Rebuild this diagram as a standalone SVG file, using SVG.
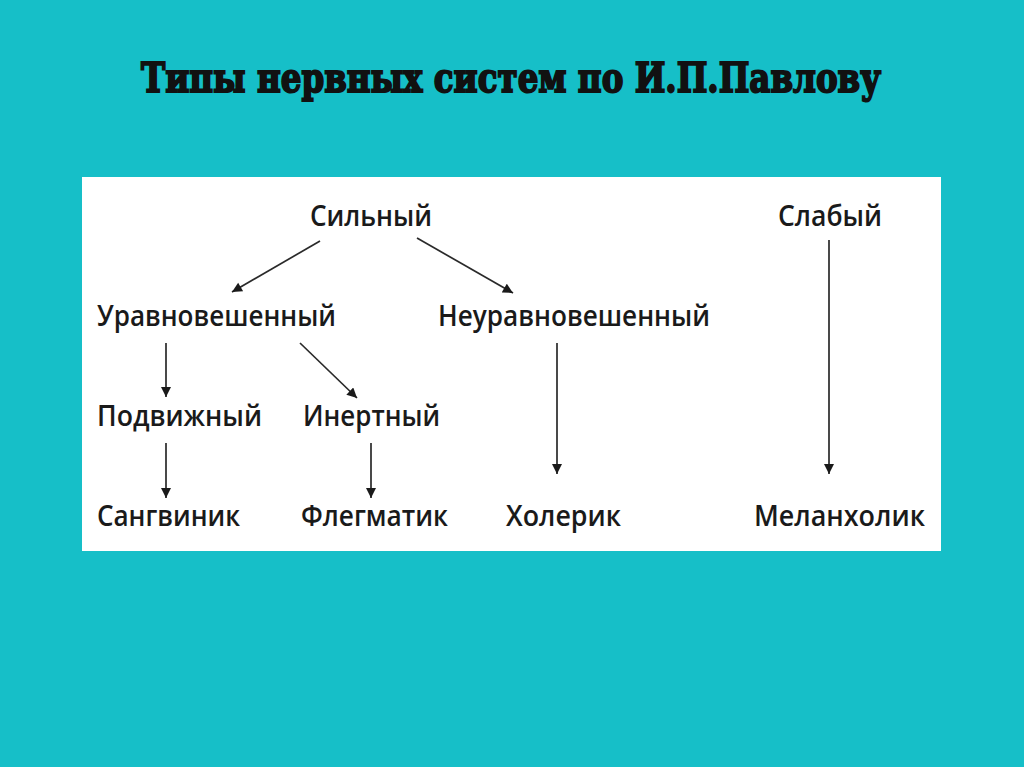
<svg xmlns="http://www.w3.org/2000/svg" width="1024" height="767" viewBox="0 0 1024 767">
<style>
.t{font-family:"Open Sans","Liberation Sans",sans-serif;font-size:29px;font-weight:600;fill:#1a1a1a}
.title{font-family:"DejaVu Serif","Liberation Serif",serif;font-weight:bold;font-size:41px;fill:#111;stroke:#111;stroke-width:2}
.c line{stroke:#2a2a2a;stroke-width:1.7;marker-end:url(#ah)}
</style>
<defs>
<marker id="ah" viewBox="0 0 10 10" refX="10" refY="5" markerWidth="11" markerHeight="10" markerUnits="userSpaceOnUse" orient="auto">
<path d="M0,0 L10,5 L0,10 z" fill="#1a1a1a"/>
</marker>
</defs>
<rect x="0" y="0" width="1024" height="767" fill="#16bfc8"/>
<text class="title" x="141" y="92" textLength="740" lengthAdjust="spacingAndGlyphs">Типы нервных систем по И.П.Павлову</text>
<rect x="82" y="177" width="859" height="374" fill="#ffffff"/>
<g class="c">
<line x1="320" y1="241" x2="232" y2="292"/>
<line x1="417" y1="238" x2="513" y2="293"/>
<line x1="166" y1="343" x2="166" y2="397"/>
<line x1="300" y1="343" x2="357" y2="398"/>
<line x1="166" y1="443" x2="166" y2="498"/>
<line x1="371" y1="443" x2="371" y2="498"/>
<line x1="557" y1="343" x2="557" y2="474"/>
<line x1="829" y1="240" x2="829" y2="474"/>
</g>
<g id="n-silny"><text class="t" x="310" y="226" textLength="122" lengthAdjust="spacingAndGlyphs">Сильный</text></g>
<g id="n-slaby"><text class="t" x="778" y="226" textLength="104" lengthAdjust="spacingAndGlyphs">Слабый</text></g>
<g id="n-uravn"><text class="t" x="97" y="326" textLength="239" lengthAdjust="spacingAndGlyphs">Уравновешенный</text></g>
<g id="n-neuravn"><text class="t" x="438" y="326" textLength="272" lengthAdjust="spacingAndGlyphs">Неуравновешенный</text></g>
<g id="n-podv"><text class="t" x="97" y="426" textLength="165" lengthAdjust="spacingAndGlyphs">Подвижный</text></g>
<g id="n-inert"><text class="t" x="303" y="426" textLength="137" lengthAdjust="spacingAndGlyphs">Инертный</text></g>
<g id="n-sang"><text class="t" x="97" y="526" textLength="143" lengthAdjust="spacingAndGlyphs">Сангвиник</text></g>
<g id="n-fleg"><text class="t" x="301" y="526" textLength="147" lengthAdjust="spacingAndGlyphs">Флегматик</text></g>
<g id="n-hol"><text class="t" x="506" y="526" textLength="115" lengthAdjust="spacingAndGlyphs">Холерик</text></g>
<g id="n-mel"><text class="t" x="754" y="526" textLength="171" lengthAdjust="spacingAndGlyphs">Меланхолик</text></g>
</svg>
